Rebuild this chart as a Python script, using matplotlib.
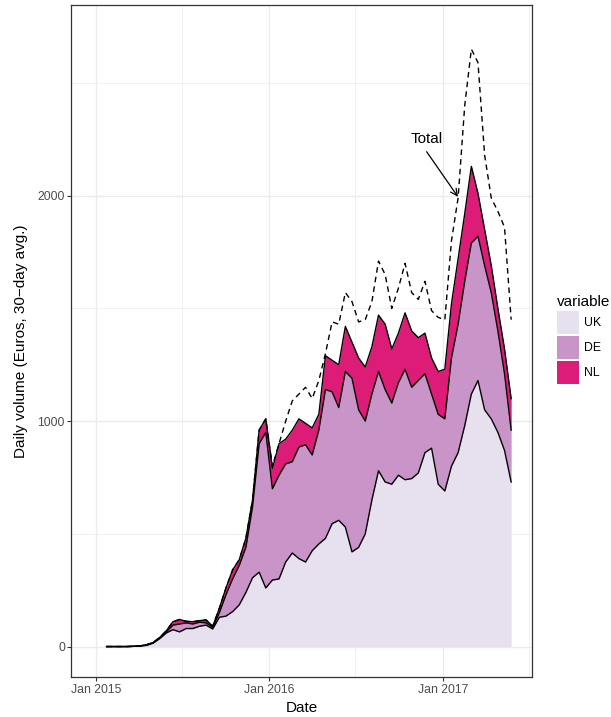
import numpy as np
import pandas as pd
import matplotlib
matplotlib.use('Agg')
import matplotlib.pyplot as plt
import matplotlib.dates as mdates
from matplotlib.patches import Patch

# ~fortnightly points
dates = pd.date_range('2015-01-24', '2017-05-25', periods=62)

uk = [0, 0, 0, 0, 1, 2, 5, 15, 35, 60, 75, 65, 80, 80, 90, 95, 78, 130, 135, 155,
      185, 240, 305, 330, 260, 295, 300, 375, 415, 390, 375, 425, 455, 480, 545, 560,
      530, 420, 440, 500, 650, 780, 730, 720, 760, 740, 745, 770, 860, 880, 720, 690,
      800, 860, 980, 1120, 1180, 1050, 1010, 950, 870, 730]
de = [0, 0, 0, 0, 0, 1, 2, 1, 3, 5, 20, 35, 25, 20, 18, 10, 7, 20, 95, 145,
      175, 200, 315, 570, 690, 405, 460, 435, 405, 495, 520, 425, 505, 660, 585, 500,
      690, 770, 610, 500, 470, 440, 410, 360, 410, 490, 405, 410, 350, 240, 310, 320,
      480, 570, 640, 670, 640, 640, 560, 450, 340, 230]
nl = [0, 0, 0, 0, 0, 0, 1, 2, 2, 5, 15, 20, 7, 10, 7, 13, 5, 20, 30, 40,
      25, 40, 30, 60, 60, 90, 140, 110, 140, 125, 95, 120, 70, 150, 140, 190,
      200, 160, 230, 240, 210, 250, 290, 240, 220, 250, 250, 190, 180, 160, 190, 220,
      240, 290, 300, 340, 190, 160, 120, 100, 110, 140]
total = [0, 0, 0, 0, 1, 3, 8, 18, 40, 70, 110, 120, 112, 110, 115, 118, 90, 170, 260, 340,
         385, 480, 650, 960, 1010, 800, 900, 1000, 1090, 1120, 1150, 1100, 1180, 1300, 1440, 1430,
         1570, 1530, 1440, 1450, 1530, 1710, 1650, 1500, 1590, 1700, 1570, 1540, 1620, 1490, 1460, 1450,
         1800, 1990, 2400, 2650, 2590, 2180, 1990, 1930, 1860, 1450]

series = ['UK', 'DE', 'NL']
colors = ['#e7e1ef', '#c994c7', '#dd1c77']

plt.rcParams['font.family'] = ['Liberation Sans', 'DejaVu Sans']

fig = plt.figure(figsize=(6.11, 7.17), dpi=100)
ax = fig.add_axes([0.117, 0.0558, 0.753, 0.937])

# stacked areas with a black upper outline (like geom_area)
stack = np.vstack([uk, de, nl])
tops = np.cumsum(stack, axis=0)
bottoms = tops - stack
for i in range(3):
    ax.fill_between(dates, bottoms[i], tops[i], color=colors[i], lw=0, zorder=2)
for i in range(3):
    ax.plot(dates, tops[i], color='black', lw=1.0, zorder=3)
ax.plot(dates, total, color='black', lw=1.0, ls=(0, (4, 3)), zorder=4)

# annotation
ax.text(pd.Timestamp('2016-11-28'), 2252, 'Total', ha='center', va='center', fontsize=11)
ax.annotate('', xy=(pd.Timestamp('2017-02-02'), 1995), xytext=(pd.Timestamp('2016-11-28'), 2195),
            arrowprops=dict(arrowstyle='->', lw=0.9, color='black', shrinkA=0, shrinkB=0,
                            mutation_scale=12))

# axes
ax.set_xlim(pd.Timestamp('2014-11-11'), pd.Timestamp('2017-07-07'))
ax.set_ylim(-135, 2845)
ax.set_yticks([0, 1000, 2000])
ax.set_yticks([500, 1500, 2500], minor=True)
ax.xaxis.set_major_locator(mdates.MonthLocator(bymonth=1))
ax.xaxis.set_minor_locator(mdates.MonthLocator(bymonth=7))
ax.xaxis.set_major_formatter(mdates.DateFormatter('%b %Y'))

ax.grid(True, which='major', color='#ebebeb', lw=1.0, zorder=0)
ax.grid(True, which='minor', color='#ebebeb', lw=0.5, zorder=0)
ax.set_axisbelow(True)
for s in ax.spines.values():
    s.set_color('#333333')
    s.set_linewidth(0.9)
ax.tick_params(which='major', length=2.75, width=0.8, color='#333333',
               labelcolor='#4d4d4d', labelsize=8.8, pad=2)
ax.tick_params(which='minor', length=0)

ax.set_xlabel('Date', fontsize=11)
ax.set_ylabel('Daily volume (Euros, 30\u2212day avg.)', fontsize=11)
ax.xaxis.set_label_coords(0.5, -0.036)
ax.yaxis.set_label_coords(-0.094, 0.5)

# legend
handles = [Patch(facecolor=c, edgecolor='none') for c in colors]
leg = fig.legend(handles, series, title='variable', loc='upper left',
                 bbox_to_anchor=(557 / 611, 1 - 295 / 717), frameon=False,
                 fontsize=8.8, title_fontsize=11, handlelength=1.84, handleheight=2.45,
                 labelspacing=0.2, handletextpad=0.4, borderpad=0, borderaxespad=0)
leg._legend_box.align = 'left'

fig.savefig('out.png', dpi=100)
